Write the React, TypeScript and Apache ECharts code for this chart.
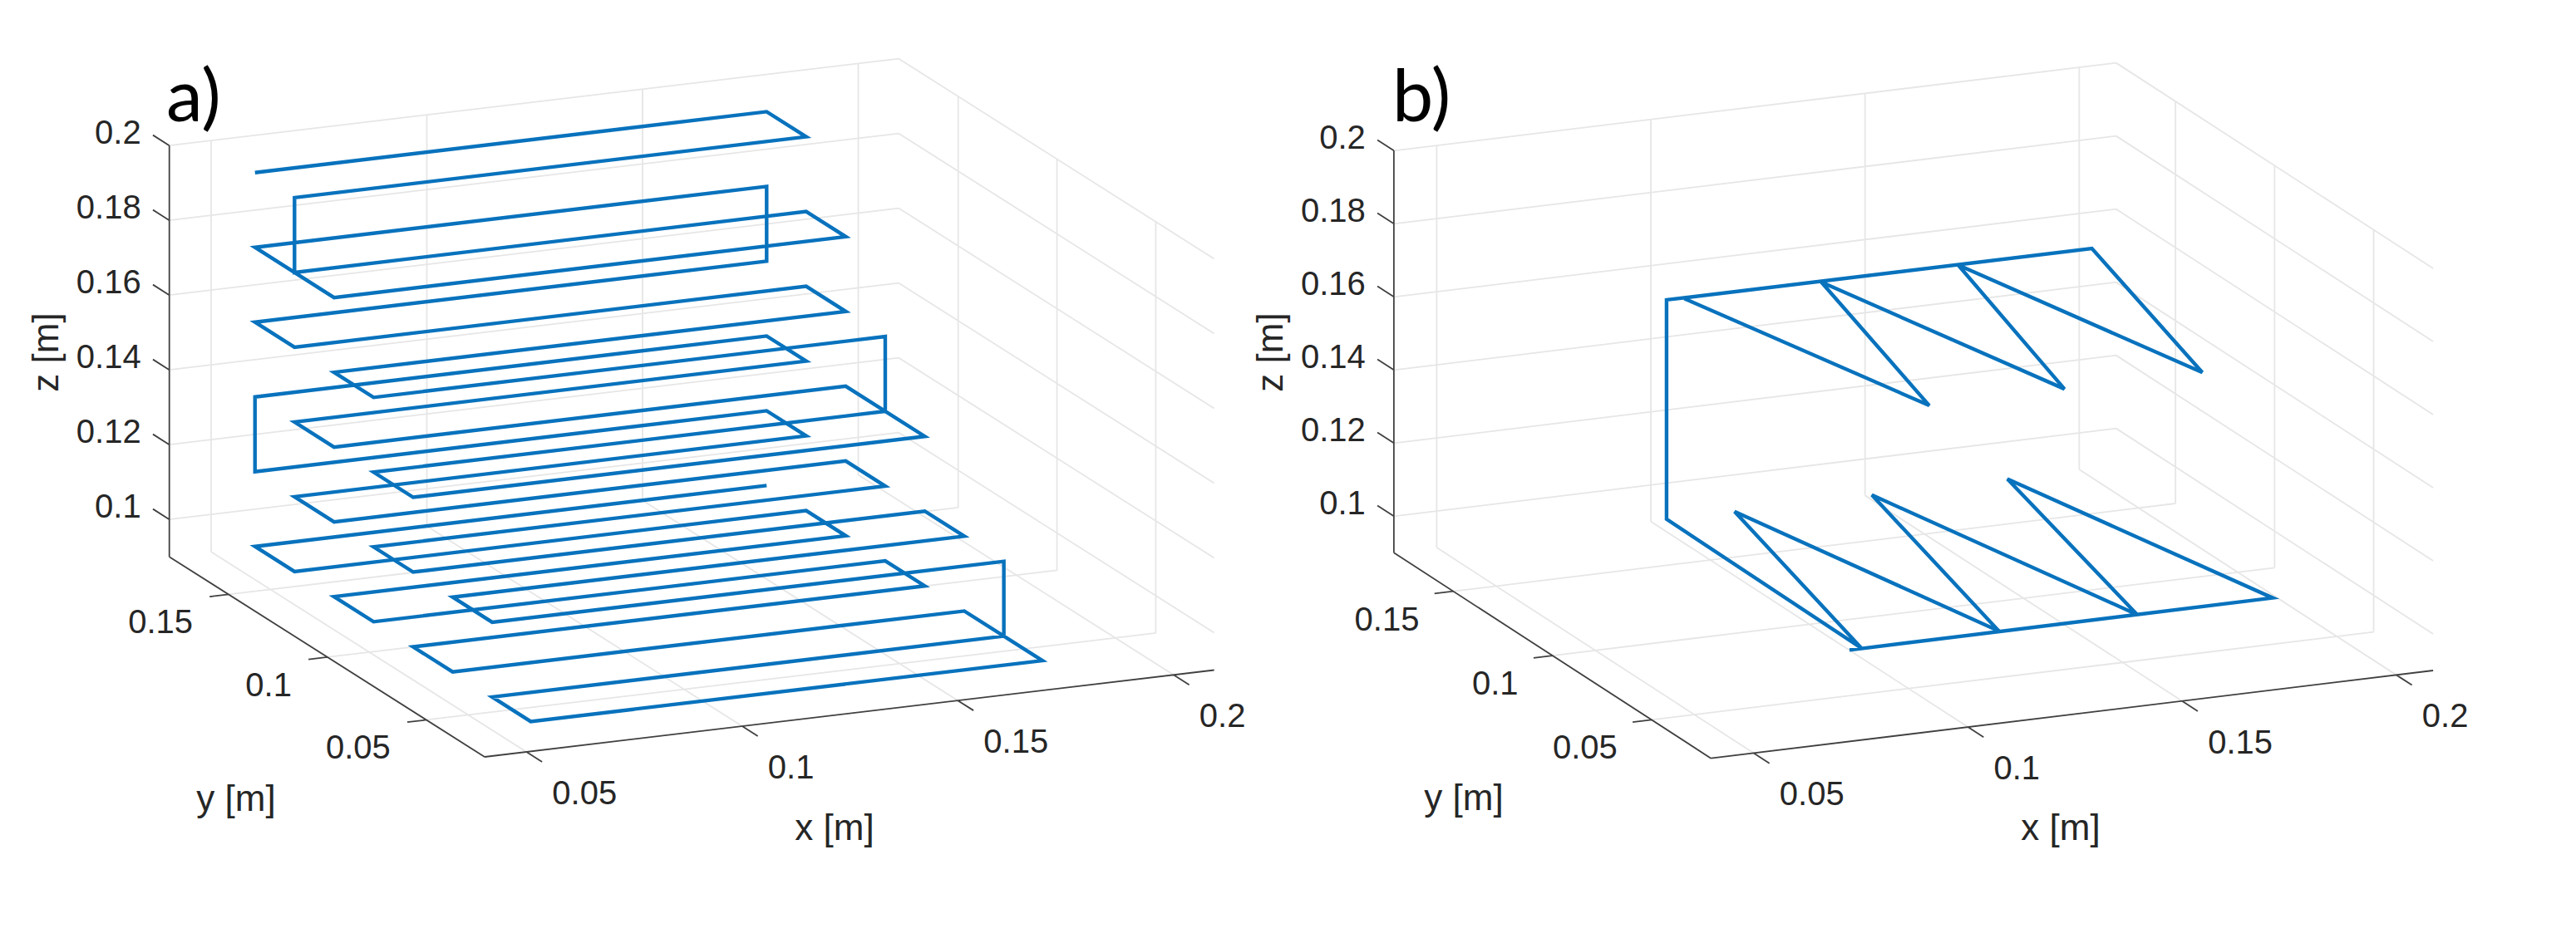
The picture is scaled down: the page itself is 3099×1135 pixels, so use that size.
import React, { useEffect, useRef } from "react";
import * as echarts from "echarts";

const xTicks = [0.05, 0.1, 0.15, 0.2];
const yTicks = [0.05, 0.1, 0.15];
const zTicks = [0.1, 0.12, 0.14, 0.16, 0.18, 0.2];
const xTickLabels = ["0.05", "0.1", "0.15", "0.2"];
const yTickLabels = ["0.05", "0.1", "0.15"];
const zTickLabels = ["0.1", "0.12", "0.14", "0.16", "0.18", "0.2"];

// Path of panel a), metres
const xPathA = [
  0.0487, 0.1673, 0.1673, 0.0487,
  0.0487, 0.1673, 0.1673, 0.0487, 0.0487, 0.1673,
  0.1673, 0.0487, 0.0487, 0.1673, 0.1673, 0.0487, 0.0487, 0.1673,
  0.1673, 0.0487, 0.0487, 0.1673, 0.1673, 0.0487, 0.0487, 0.1673, 0.1673, 0.0487,
  0.0487, 0.1673, 0.1673, 0.0487, 0.0487, 0.1673, 0.1673, 0.0487, 0.0487, 0.1673, 0.1673, 0.0487, 0.0487, 0.1673,
  0.1673, 0.0487, 0.0487, 0.1673, 0.1673, 0.0487, 0.0487, 0.1673, 0.1673, 0.0487, 0.0487, 0.1673, 0.1673, 0.0487, 0.0487, 0.1673,
];
const yPathA = [
  0.155, 0.155, 0.135, 0.135,
  0.135, 0.135, 0.115, 0.115, 0.155, 0.155,
  0.155, 0.155, 0.135, 0.135, 0.115, 0.115, 0.095, 0.095,
  0.095, 0.095, 0.075, 0.075, 0.115, 0.115, 0.135, 0.135, 0.155, 0.155,
  0.155, 0.155, 0.135, 0.135, 0.115, 0.115, 0.095, 0.095, 0.075, 0.075, 0.055, 0.055, 0.035, 0.035,
  0.035, 0.035, 0.0155, 0.0155, 0.055, 0.055, 0.075, 0.075, 0.095, 0.095, 0.115, 0.115, 0.135, 0.135, 0.155, 0.155,
];
const zPathA = [
  0.2, 0.2, 0.2, 0.2,
  0.18, 0.18, 0.18, 0.18, 0.18, 0.18,
  0.16, 0.16, 0.16, 0.16, 0.16, 0.16, 0.16, 0.16,
  0.14, 0.14, 0.14, 0.14, 0.14, 0.14, 0.14, 0.14, 0.14, 0.14,
  0.12, 0.12, 0.12, 0.12, 0.12, 0.12, 0.12, 0.12, 0.12, 0.12, 0.12, 0.12, 0.12, 0.12,
  0.1, 0.1, 0.1, 0.1, 0.1, 0.1, 0.1, 0.1, 0.1, 0.1, 0.1, 0.1, 0.1, 0.1, 0.1, 0.1,
];

// Path of panel b), metres
const xPathB = [
  0.0966, 0.1123, 0.1285, 0.1439, 0.1606, 0.176, 0.1919, 0.0927,
  0.0927, 0.0919, 0.1084, 0.1241, 0.1404, 0.1563, 0.1719, 0.188, 0.089,
];
const yPathB = [
  0.1557, 0.0661, 0.1556, 0.0662, 0.1559, 0.066, 0.1561, 0.1563,
  0.1563, 0.0562, 0.1559, 0.0565, 0.1558, 0.0563, 0.1555, 0.0564, 0.056,
];
const zPathB = [
  0.16, 0.16, 0.16, 0.16, 0.16, 0.16, 0.16, 0.16,
  0.1, 0.1, 0.1, 0.1, 0.1, 0.1, 0.1, 0.1, 0.1,
];

type Panel = {
  tag: string;
  tagX: number;
  tagY: number;
  origin: number[];
  xu: number[];
  yu: number[];
  zu: number;
  xLim: number[];
  yLim: number[];
  zLim: number[];
  path: number[][];
  xTitle: number[];
  yTitle: number[];
  zTitle: number[];
  yLabelDx: number;
};

const panels: Panel[] = [
  {
    tag: "a)", tagX: 200, tagY: 112,
    origin: [583, 911], xu: [5190, -618], yu: [-2378, -1510], zu: -4500,
    xLim: [0.0403, 0.2094], yLim: [0.0205, 0.18], zLim: [0.09, 0.2],
    path: [xPathA, yPathA, zPathA],
    xTitle: [1004, 995], yTitle: [284, 960], zTitle: [54, 424], yLabelDx: -43,
  },
  {
    tag: "b)", tagX: 1675, tagY: 112,
    origin: [2058.3, 912.7], xu: [5153, -627], yu: [-2384, -1546], zu: -4400,
    xLim: [0.04, 0.2086], yLim: [0.02, 0.18], zLim: [0.09, 0.2],
    path: [xPathB, yPathB, zPathB],
    xTitle: [2479, 995], yTitle: [1761, 959], zTitle: [1527, 424], yLabelDx: -41,
  },
];

const GAP = [NaN, NaN];
const TEXT = "#262626";
const FONT = "Liberation Sans";

function buildSeries(p: Panel) {
  const project = (x: number, y: number, z: number) => {
    const a = x - p.xLim[0];
    const b = y - p.yLim[0];
    const c = z - p.zLim[0];
    return [
      p.origin[0] + a * p.xu[0] + b * p.yu[0],
      p.origin[1] + a * p.xu[1] + b * p.yu[1] + c * p.zu,
    ];
  };
  const [x0, x1] = p.xLim;
  const [y0, y1] = p.yLim;
  const [z0, z1] = p.zLim;

  const grid: number[][] = [];
  const seg = (out: number[][], s: number[], e: number[]) => {
    out.push(project(s[0], s[1], s[2]), project(e[0], e[1], e[2]), GAP);
  };
  xTicks.forEach((t) => {
    seg(grid, [t, y0, z0], [t, y1, z0]);
    seg(grid, [t, y1, z0], [t, y1, z1]);
  });
  yTicks.forEach((t) => {
    seg(grid, [x0, t, z0], [x1, t, z0]);
    seg(grid, [x1, t, z0], [x1, t, z1]);
  });
  zTicks.forEach((t) => {
    seg(grid, [x0, y1, t], [x1, y1, t]);
    seg(grid, [x1, y1, t], [x1, y0, t]);
  });

  const axes: number[][] = [];
  seg(axes, [x0, y1, z0], [x0, y1, z1]);
  seg(axes, [x0, y1, z0], [x0, y0, z0]);
  seg(axes, [x0, y0, z0], [x1, y0, z0]);
  xTicks.forEach((t) => seg(axes, [t, y0, z0], [t, y0 - 0.0079, z0]));
  yTicks.forEach((t) => seg(axes, [x0, t, z0], [x0 - 0.0044, t, z0]));
  zTicks.forEach((t) => seg(axes, [x0, y1, t], [x0, y1 + 0.0083, t]));

  const data = p.path[0].map((_, i) => project(p.path[0][i], p.path[1][i], p.path[2][i]));

  const text = (
    value: number[],
    s: string,
    align: string,
    offset: number[],
    size = 40,
    rotate = 0,
  ) => ({
    value,
    label: {
      show: true,
      formatter: s,
      position: "inside",
      align,
      verticalAlign: "middle",
      offset,
      rotate,
      fontSize: size,
      fontFamily: FONT,
      color: TEXT,
      opacity: 1,
    },
  });

  const labels = [
    ...xTicks.map((t, i) => text(project(t, y0, z0), xTickLabels[i], "left", [31, 49])),
    ...yTicks.map((t, i) => text(project(x0, t, z0), yTickLabels[i], "right", [p.yLabelDx, 33])),
    ...zTicks.map((t, i) => text(project(x0, y1, t), zTickLabels[i], "right", [-34, -16])),
    text(p.xTitle, "x [m]", "center", [0, 0], 44),
    text(p.yTitle, "y [m]", "center", [0, 0], 44),
    text(p.zTitle, "z [m]", "center", [0, 0], 44, 90),
  ];

  const common = { type: "line", symbol: "none", silent: true, connectNulls: false, clip: false };
  return [
    { ...common, z: 1, data: grid, lineStyle: { color: "#e6e6e6", width: 1.8 } },
    { ...common, z: 2, data: axes, lineStyle: { color: "#404040", width: 1.8 } },
    { ...common, z: 3, data, lineStyle: { color: "#0872bd", width: 4.4, join: "miter", cap: "butt" } },
    {
      type: "scatter",
      z: 4,
      silent: true,
      symbolSize: 1,
      itemStyle: { color: "rgba(255,255,255,0)" },
      data: labels,
    },
  ];
}

export default function App() {
  const ref = useRef<HTMLDivElement>(null);
  useEffect(() => {
    document.body.style.margin = "0";
    const chart = echarts.init(ref.current!, undefined, { renderer: "svg" });
    chart.setOption({
      animation: false,
      backgroundColor: "#ffffff",
      tooltip: { show: false },
      legend: { show: false },
      grid: { left: 0, right: 0, top: 0, bottom: 0 },
      xAxis: { type: "value", min: 0, max: 3099, show: false },
      yAxis: { type: "value", min: 0, max: 1135, inverse: true, show: false },
      series: panels.flatMap(buildSeries),
      graphic: panels.map((p) => ({
        type: "text",
        x: p.tagX,
        y: p.tagY,
        style: {
          text: p.tag,
          fill: "#000000",
          font: "88px Lato",
          textAlign: "left",
          textVerticalAlign: "middle",
        },
      })),
    });
    return () => chart.dispose();
  }, []);
  return <div ref={ref} style={{ width: 3099, height: 1135, display: "block" }} />;
}
